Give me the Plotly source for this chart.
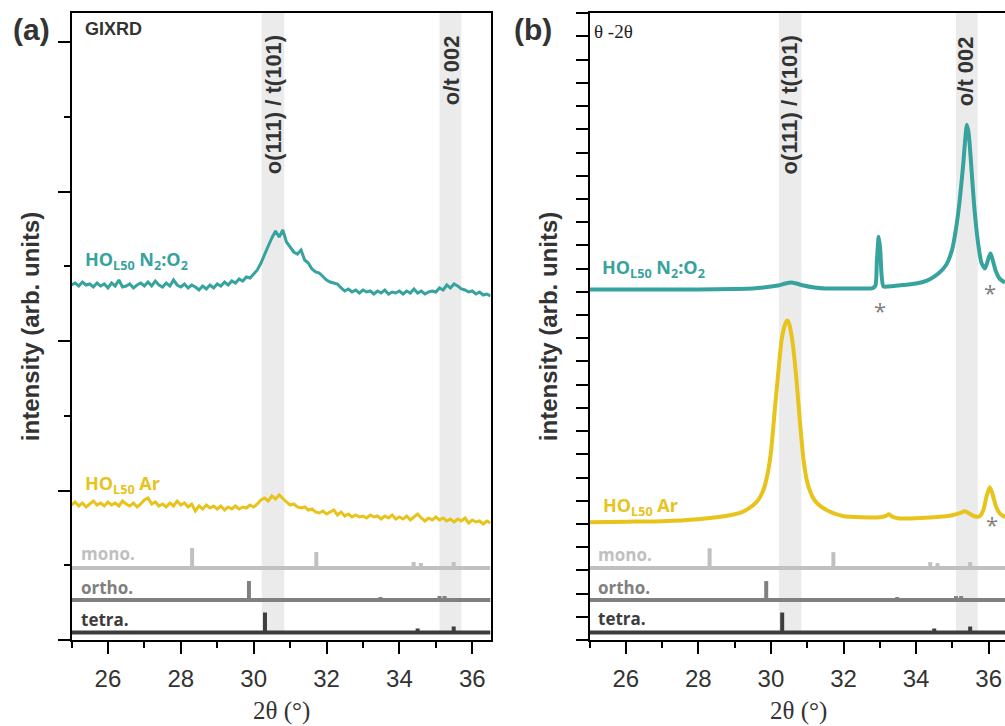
import numpy as np
import plotly.graph_objects as go

# ---------------- data ----------------
# (a) GIXRD, 2theta grid of 0.1 deg
two_theta_gixrd = np.round(np.arange(25.0, 36.5001, 0.1), 1)
gixrd_n2o2 = [355, 357, 354, 358, 355, 356, 353, 357, 354, 356,
              352, 357, 354, 360, 353, 354, 356, 352, 355, 357,
              354, 358, 354, 359, 355, 353, 357, 354, 360, 355,
              353, 356, 352, 355, 353, 350, 354, 351, 355, 352,
              356, 354, 358, 355, 359, 357, 361, 359, 363, 362,
              366, 370, 377, 386, 394, 402, 409, 403, 410, 398,
              393, 388, 386, 390, 380, 377, 371, 368, 367, 363,
              360, 358, 357, 356, 352, 349, 351, 348, 350, 347,
              350, 348, 349, 346, 349, 347, 350, 346, 348, 347,
              349, 346, 349, 347, 351, 347, 349, 346, 348, 349,
              348, 352, 350, 355, 352, 356, 354, 351, 350, 348,
              349, 346, 348, 345, 346, 344]
gixrd_ar = [135, 138, 134, 137, 133, 136, 139, 135, 137, 134,
            138, 135, 137, 134, 139, 136, 134, 137, 133, 136,
            140, 142, 136, 138, 134, 136, 133, 137, 134, 139,
            135, 137, 133, 136, 129, 134, 131, 135, 132, 134,
            131, 134, 130, 133, 131, 134, 131, 133, 132, 135,
            133, 136, 140, 142, 139, 144, 141, 145, 141, 138,
            135, 136, 133, 132, 133, 130, 131, 128, 127, 129,
            126, 128, 130, 125, 128, 124, 126, 123, 125, 123,
            124, 122, 125, 123, 124, 121, 124, 122, 125, 121,
            123, 121, 124, 120, 123, 126, 122, 119, 122, 120,
            123, 120, 122, 119, 121, 118, 121, 119, 122, 117,
            120, 118, 119, 116, 119, 117]

# (b) theta-2theta
tt_n2o2 = [25.0, 26.0, 27.0, 28.0, 29.0, 29.5, 29.8, 30.0, 30.2, 30.4, 30.55, 30.7,
           30.9, 31.2, 31.5, 32.0, 32.5, 32.8, 32.88, 32.92, 32.97, 33.01, 33.05, 33.1,
           33.2, 33.5, 34.0, 34.3, 34.5, 34.7, 34.85, 35.0, 35.1, 35.2, 35.3, 35.35,
           35.4, 35.45, 35.5, 35.6, 35.7, 35.8, 35.9, 36.0, 36.05, 36.1, 36.2, 36.3, 36.45]
int_n2o2 = [351, 351, 351, 351, 351.5, 352, 353, 354, 355, 357, 358, 357,
            355, 353, 352, 352, 352, 352.5, 355, 380, 404, 392, 365, 354,
            354, 355, 357, 360, 364, 370, 377, 392, 412, 440, 477, 500,
            516, 507, 485, 435, 400, 378, 372, 383, 387, 382, 369, 362, 358]
tt_ar = [25.0, 26.0, 27.0, 28.0, 28.5, 29.0, 29.2, 29.4, 29.6, 29.7, 29.8, 29.9,
         30.0, 30.1, 30.2, 30.3, 30.4, 30.45, 30.5, 30.6, 30.7, 30.8, 30.9, 31.0,
         31.1, 31.2, 31.4, 31.6, 31.8, 32.0, 32.5, 33.0, 33.15, 33.25, 33.35, 33.5,
         34.0, 34.5, 35.0, 35.2, 35.35, 35.5, 35.6, 35.75, 35.85, 35.95, 36.03, 36.1,
         36.2, 36.3, 36.45]
int_ar = [118, 118.5, 119, 121, 123, 126, 128, 132, 138, 143, 151, 165,
          188, 228, 267, 302, 317, 320, 317, 297, 262, 218, 180, 158,
          147, 140, 133, 129, 126, 124, 123, 123, 124, 126, 123.5, 122,
          122, 123, 125, 127, 129, 126, 124, 124, 130, 145, 153, 147,
          134, 127, 123]

# reference patterns (2theta, relative height)
mono_pos = [28.31, 31.72, 34.39, 34.59, 35.49, 36.08]
mono_h = [20, 16, 6, 5, 6, 2]
ortho_pos = [29.87, 33.48, 35.10, 35.24]
ortho_h = [19, 3, 4, 4]
tetra_pos = [30.31, 34.50, 35.49]
tetra_h = [20, 4, 6]

bands = [(30.22, 30.84), (35.10, 35.70)]
band_labels = ["o(111) / t(101)", "o/t 002"]

# ---------------- style ----------------
TEAL = "#37a39e"
YELLOW = "#e7c31b"
MONO_C = "#c0c0c0"
ORTHO_C = "#808080"
TETRA_C = "#3d3d3d"
DARK = "#333333"
SANS = "Liberation Sans, Arial, sans-serif"
OPEN = "Open Sans, Noto Sans, sans-serif"
SERIF = "Liberation Serif, Times New Roman, serif"

ref_sets = [("mono.", mono_pos, mono_h, 72, MONO_C),
            ("ortho.", ortho_pos, ortho_h, 40, ORTHO_C),
            ("tetra.", tetra_pos, tetra_h, 7.5, TETRA_C)]

fig = go.Figure()


def add_refs(xa, ya, xmax):
    for name, pos, hts, base, col in ref_sets:
        fig.add_trace(go.Scatter(x=[25, xmax], y=[base, base], mode="lines",
                                 line=dict(color=col, width=4), xaxis=xa, yaxis=ya,
                                 showlegend=False, hoverinfo="skip"))
        xs, ys = [], []
        for p, h in zip(pos, hts):
            xs += [p, p, None]
            ys += [base, base + h, None]
        fig.add_trace(go.Scatter(x=xs, y=ys, mode="lines",
                                 line=dict(color=col, width=4), xaxis=xa, yaxis=ya,
                                 showlegend=False, hoverinfo="skip"))


# panel (a)
fig.add_trace(go.Scatter(x=two_theta_gixrd, y=gixrd_n2o2, mode="lines",
                         line=dict(color=TEAL, width=3), xaxis="x", yaxis="y",
                         showlegend=False))
fig.add_trace(go.Scatter(x=two_theta_gixrd, y=gixrd_ar, mode="lines",
                         line=dict(color=YELLOW, width=3), xaxis="x", yaxis="y",
                         showlegend=False))
add_refs("x", "y", 36.5)

# panel (b)
fig.add_trace(go.Scatter(x=tt_n2o2, y=int_n2o2, mode="lines", line_shape="spline",
                         line=dict(color=TEAL, width=4, smoothing=0.6), xaxis="x2", yaxis="y2",
                         showlegend=False))
fig.add_trace(go.Scatter(x=tt_ar, y=int_ar, mode="lines", line_shape="spline",
                         line=dict(color=YELLOW, width=4, smoothing=0.6), xaxis="x2", yaxis="y2",
                         showlegend=False))
add_refs("x2", "y2", 36.5)

# shaded bands
shapes = []
for xr in ["x", "x2"]:
    for b0, b1 in bands:
        shapes.append(dict(type="rect", xref=xr, yref=("y domain" if xr == "x" else "y2 domain"),
                           x0=b0, x1=b1, y0=0.01, y1=1, fillcolor="#ebebeb",
                           line=dict(width=0), layer="below"))

ann = []


def add_ann(text, x, y, xref, yref, size, color=DARK, family=SANS, weight="bold",
            xanchor="center", yanchor="middle", angle=0):
    ann.append(dict(text=text, x=x, y=y, xref=xref, yref=yref, showarrow=False,
                    xanchor=xanchor, yanchor=yanchor, textangle=angle,
                    font=dict(size=size, color=color, family=family, weight=weight)))


# panel letters
add_ann("(a)", 32 / 1005, (640 - 30) / 627, "paper", "paper", 30)
add_ann("(b)", 533 / 1005, (640 - 30) / 627, "paper", "paper", 30)
add_ann("GIXRD", 25.31, 611, "x", "y", 18, xanchor="left")
add_ann("θ -2θ", 25.07, 609, "x2", "y2", 19, color="#222222", family=SERIF,
        weight="normal", xanchor="left")

# band labels
for xr, yr, centers in [("x", "y", [30.55, 35.42]), ("x2", "y2", [30.50, 35.38])]:
    for c, lab in zip(centers, band_labels):
        add_ann(lab, c, 607, xr, yr, 22, yanchor="top", angle=-90)

# series labels
lab_n2o2 = "HO<sub>L50</sub> N<sub>2</sub>:O<sub>2</sub>"
lab_ar = "HO<sub>L50</sub> Ar"
add_ann(lab_n2o2, 25.31, 380, "x", "y", 18, color=TEAL, family=OPEN, xanchor="left")
add_ann(lab_ar, 25.31, 156, "x", "y", 18, color=YELLOW, family=OPEN, xanchor="left")
add_ann(lab_n2o2, 25.29, 372, "x2", "y2", 18, color=TEAL, family=OPEN, xanchor="left")
add_ann(lab_ar, 25.32, 134, "x2", "y2", 18, color=YELLOW, family=OPEN, xanchor="left")

# reference labels
for xr, yr, x0, ys in [("x", "y", 25.2, [87, 53, 21]), ("x2", "y2", 25.18, [86, 53, 22])]:
    for (name, _, _, _, col), yy in zip(ref_sets, ys):
        add_ann(name, x0, yy, xr, yr, 17, color=col, family=OPEN, xanchor="left")

# asterisks
for x, y in [(33.01, 331), (36.03, 349), (36.08, 116)]:
    add_ann("*", x, y, "x2", "y2", 22, color="#7f7f7f", family=OPEN, weight="normal")

# axis titles
for xc in [30 / 1005, 548 / 1005]:
    add_ann("intensity (arb. units)", xc, 0.499, "paper", "paper", 24, angle=-90)
for xc in [281 / 1005, 798 / 1005]:
    add_ann("2θ (°)", xc, (640 - 711) / 627, "paper", "paper", 25, family=SERIF,
            weight="normal")

xcommon = dict(showline=True, linewidth=2, linecolor="black", mirror=True,
               ticks="outside", ticklen=12, tickwidth=2, tickcolor="black",
               tick0=26, dtick=2, showgrid=False, zeroline=False,
               minor=dict(ticks="outside", ticklen=6, tickwidth=2, tickcolor="black",
                          tick0=25, dtick=1, showgrid=False),
               tickfont=dict(family=SANS, size=24, color=DARK), ticklabelstandoff=4)

fig.update_layout(
    width=1005, height=726,
    margin=dict(l=0, r=0, t=13, b=86),
    paper_bgcolor="white", plot_bgcolor="white",
    showlegend=False,
    xaxis=dict(domain=[71.5 / 1005, 490.5 / 1005], range=[25, 36.5], anchor="y", **xcommon),
    xaxis2=dict(domain=[589.5 / 1005, 1.0], range=[25, 36.45], anchor="y2", **xcommon),
    yaxis=dict(domain=[0, 1], range=[0, 627], anchor="x", showline=True, linewidth=2,
               linecolor="black", mirror=True, ticks="outside", ticklen=12, tickwidth=2,
               tickcolor="black", tick0=0, dtick=149.5, showticklabels=False,
               showgrid=False, zeroline=False,
               minor=dict(ticks="outside", ticklen=6, tickwidth=2, tickcolor="black",
                          tick0=0, dtick=74.75, showgrid=False)),
    yaxis2=dict(domain=[0, 1], range=[0, 628], anchor="x2", showline=True, linewidth=2,
                linecolor="black", mirror=False, ticks="outside", ticklen=12, tickwidth=2,
                tickcolor="black", tick0=0, dtick=23.25, showticklabels=False,
                showgrid=False, zeroline=False),
    shapes=shapes,
    annotations=ann,
)

fig.write_html("out.html")
